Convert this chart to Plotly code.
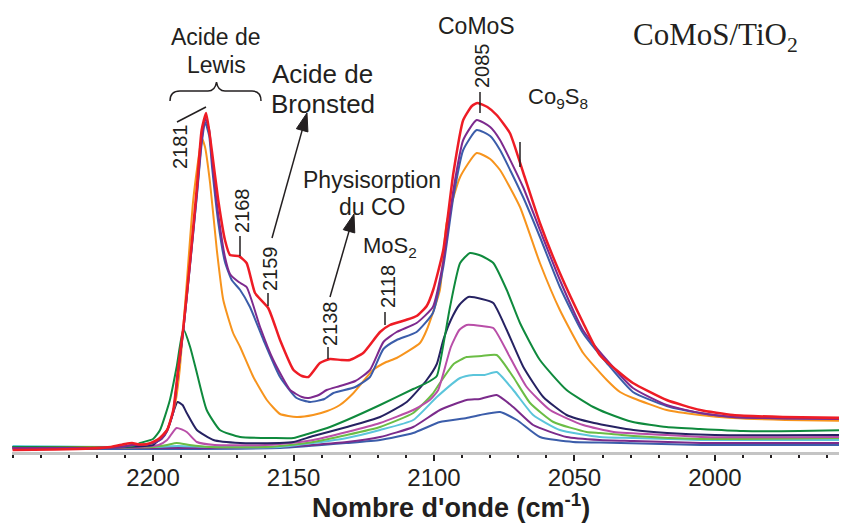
import math
import plotly.graph_objects as go

# ---------------- data (wavenumber cm-1, absorbance a.u.) ----------------
red_wn = [2250, 2235, 2222, 2215, 2210, 2207.5, 2205, 2202, 2198, 2195, 2192.8, 2191, 2189.2, 2186.8, 2184.4, 2182.7, 2181.1,
          2179.1, 2176.8, 2174.4, 2172.6, 2169.5, 2166.7, 2163.7, 2159, 2154.8, 2150, 2147, 2144.7, 2140.6, 2137, 2133,
          2129.9, 2125.2, 2119.2, 2115.7, 2110, 2106.2, 2102.6, 2100.3, 2096.7, 2093.1, 2089.6, 2086.5, 2084.5, 2081,
          2077.7, 2073, 2068.2, 2062.3, 2055.2, 2046.9, 2041, 2033.8, 2029.2, 2017.2, 2005.3, 1993.6, 1975.8, 1953]
red_ab = [0.02, 0.025, 0.035, 0.05, 0.08, 0.09, 0.075, 0.08, 0.13, 0.22, 0.42, 0.85, 1.25, 1.92, 2.65, 3.22, 3.39,
          3.02, 2.52, 2.12, 1.97, 1.96, 1.89, 1.59, 1.44, 1.12, 0.82, 0.76, 0.75, 0.89, 0.93, 0.92,
          0.92, 0.99, 1.20, 1.27, 1.32, 1.36, 1.46, 1.62, 2.02, 2.79, 3.32, 3.46, 3.49, 3.45,
          3.37, 3.19, 2.79, 2.29, 1.79, 1.29, 0.97, 0.79, 0.69, 0.52, 0.42, 0.37, 0.35, 0.34]

purple_wn = [2250, 2225, 2212, 2207, 2204, 2200, 2197, 2195, 2192.8, 2191, 2189.2, 2186.8, 2184.4, 2182.7, 2181.5, 2180,
             2179, 2176.8, 2174.4, 2172.6, 2169.5, 2166.7, 2161.9, 2157.2, 2151.2, 2147, 2144.7, 2141, 2138.2, 2133.5,
             2128, 2122.8, 2118, 2113.3, 2106.2, 2100.4, 2096.7, 2093.1, 2089.6, 2084.8, 2080, 2076.5, 2068.3, 2062.3,
             2055.2, 2047, 2038.5, 2029.2, 2017.2, 2005.3, 1993.6, 1975, 1953]
purple_ab = [0.04, 0.04, 0.05, 0.07, 0.07, 0.09, 0.13, 0.21, 0.40, 0.82, 1.22, 1.88, 2.58, 3.12, 3.34, 3.22,
             2.92, 2.38, 1.95, 1.78, 1.70, 1.65, 1.25, 0.92, 0.62, 0.55, 0.54, 0.57, 0.62, 0.66,
             0.71, 0.82, 1.10, 1.20, 1.29, 1.45, 1.90, 2.62, 3.12, 3.32, 3.25, 3.12, 2.65, 2.22,
             1.72, 1.22, 0.92, 0.64, 0.47, 0.39, 0.35, 0.335, 0.33]

blue_wn = [2250, 2225, 2212, 2207, 2204, 2200, 2197, 2195, 2192.8, 2191, 2189.2, 2186.8, 2184.4, 2182.7, 2181.5, 2180,
           2179, 2176.8, 2174.4, 2172, 2169, 2165.5, 2160.7, 2154.8, 2148.9, 2144.1, 2139, 2135.8, 2128, 2122.8, 2118,
           2113.3, 2106.2, 2100.4, 2096.7, 2093.1, 2089.6, 2084.8, 2080, 2076.5, 2068.3, 2062.3, 2055.2, 2047, 2038.5,
           2029.2, 2017.2, 2005.3, 1993.6, 1953]
blue_ab = [0.04, 0.04, 0.05, 0.07, 0.07, 0.09, 0.13, 0.21, 0.40, 0.82, 1.22, 1.88, 2.56, 3.08, 3.30, 3.16,
           2.85, 2.30, 1.90, 1.72, 1.62, 1.45, 1.12, 0.75, 0.54, 0.50, 0.53, 0.59, 0.65, 0.75, 1.03,
           1.12, 1.20, 1.39, 1.85, 2.55, 3.02, 3.22, 3.16, 3.02, 2.55, 2.15, 1.65, 1.19, 0.89,
           0.60, 0.46, 0.39, 0.35, 0.33]

orange_wn = [2250, 2215, 2207, 2200, 2195, 2192, 2190.4, 2188, 2185.7, 2183.5, 2182.7, 2181.5, 2179.7, 2177.3, 2175,
             2171.5, 2169, 2164.3, 2159.5, 2154.8, 2148.9, 2143, 2138, 2133.5, 2129, 2121.7, 2117, 2113.3, 2105,
             2102.6, 2097.9, 2095.5, 2090.7, 2084.8, 2080, 2076.5, 2069.4, 2062.3, 2055.2, 2046.9, 2038.5, 2033.8,
             2029.2, 2017.2, 2005.3, 1993.6, 1975, 1953]
orange_ab = [0.04, 0.05, 0.07, 0.09, 0.22, 0.50, 0.85, 1.69, 2.52, 3.0, 3.14, 3.05, 2.69, 2.02, 1.52,
             1.19, 1.05, 0.75, 0.52, 0.38, 0.35, 0.37, 0.41, 0.47, 0.58, 0.82, 0.90, 0.94, 1.09,
             1.22, 1.62, 2.29, 2.75, 2.99, 2.93, 2.82, 2.45, 1.89, 1.42, 0.99, 0.72, 0.60,
             0.54, 0.42, 0.37, 0.34, 0.32, 0.31]

green_wn = [2250, 2215, 2207, 2204.6, 2200, 2197.5, 2194, 2191.6, 2189.2, 2186.8, 2184.4, 2180.9, 2176.2, 2169, 2157.2,
            2150, 2145, 2138, 2131, 2119.2, 2107.4, 2102, 2099, 2096.5, 2094.3, 2090.7, 2087.2, 2083, 2078.9, 2074.1,
            2069.4, 2062.3, 2052.8, 2043.3, 2038.5, 2029.2, 2017.2, 2005.3, 1990, 1970, 1953]
green_ab = [0.05, 0.05, 0.06, 0.09, 0.13, 0.22, 0.52, 0.85, 1.23, 1.05, 0.79, 0.42, 0.22, 0.15, 0.14,
            0.14, 0.18, 0.24, 0.32, 0.47, 0.63, 0.70, 0.76, 1.10, 1.45, 1.89, 1.99, 1.96, 1.89, 1.62,
            1.29, 0.92, 0.62, 0.45, 0.39, 0.30, 0.25, 0.23, 0.21, 0.21, 0.22]

navy_wn = [2250, 2210, 2200, 2198.7, 2195, 2193, 2191.3, 2189.5, 2188, 2184.4, 2178.5, 2169, 2155, 2150, 2143, 2131,
           2119.2, 2109.7, 2102.6, 2099, 2096.7, 2094, 2091, 2087.8, 2083, 2078.9, 2074.1, 2068.2, 2061.1, 2052.8,
           2043, 2029, 2017, 2000, 1953]
navy_ab = [0.05, 0.05, 0.07, 0.10, 0.22, 0.38, 0.50, 0.47, 0.39, 0.22, 0.12, 0.09, 0.09, 0.10, 0.16, 0.25,
           0.35, 0.50, 0.72, 0.88, 1.12, 1.32, 1.47, 1.55, 1.53, 1.49, 1.22, 0.85, 0.55, 0.37,
           0.29, 0.22, 0.19, 0.17, 0.17]

magenta_wn = [2250, 2205, 2198, 2195, 2191.6, 2188, 2184.4, 2178, 2160, 2154.8, 2143, 2131, 2119.2, 2107.4, 2101.5,
              2098.5, 2094, 2091, 2088.4, 2083, 2078.9, 2073, 2067, 2058.7, 2046.9, 2036, 2017, 2005, 1953]
magenta_ab = [0.05, 0.05, 0.07, 0.12, 0.24, 0.20, 0.10, 0.07, 0.07, 0.08, 0.12, 0.20, 0.29, 0.42, 0.52,
              0.62, 1.05, 1.22, 1.27, 1.26, 1.24, 0.95, 0.65, 0.42, 0.27, 0.20, 0.17, 0.15, 0.15]

lgreen_wn = [2250, 2200, 2195, 2191.6, 2187, 2180, 2160, 2154.8, 2143, 2131, 2119.2, 2107.4, 2100.5, 2097.9, 2093,
             2088.4, 2083, 2077.7, 2071.8, 2065.8, 2057.5, 2045.7, 2041, 2029, 2005, 1953]
lgreen_ab = [0.05, 0.05, 0.07, 0.09, 0.07, 0.05, 0.05, 0.06, 0.10, 0.17, 0.25, 0.39, 0.58, 0.69, 0.88,
             0.95, 0.96, 0.97, 0.75, 0.49, 0.30, 0.20, 0.19, 0.16, 0.13, 0.14]

cyan_wn = [2250, 2200, 2191, 2180, 2154.8, 2143, 2131, 2119.2, 2107.4, 2099, 2090.7, 2086, 2082, 2077.7, 2071.8,
           2064.7, 2055.2, 2041, 2029, 2005, 1953]
cyan_ab = [0.06, 0.05, 0.06, 0.05, 0.05, 0.09, 0.14, 0.22, 0.32, 0.55, 0.74, 0.77, 0.77, 0.80, 0.62,
           0.37, 0.22, 0.15, 0.14, 0.12, 0.12]

purple2_wn = [2250, 2200, 2154.8, 2131, 2119.2, 2107.4, 2097.9, 2088.4, 2083.6, 2077.7, 2071.8, 2064.7, 2052.8, 2041,
              2029, 2005, 1953]
purple2_ab = [0.04, 0.04, 0.05, 0.10, 0.15, 0.25, 0.42, 0.52, 0.53, 0.57, 0.45, 0.27, 0.15, 0.12,
              0.11, 0.09, 0.09]

blue2_wn = [2250, 2200, 2154.8, 2131, 2119.2, 2107.4, 2097.9, 2088.4, 2083.6, 2076.5, 2070.5, 2062.3, 2050.5, 2041,
            2005, 1953]
blue2_ab = [0.03, 0.03, 0.04, 0.09, 0.12, 0.19, 0.30, 0.34, 0.37, 0.40, 0.32, 0.15, 0.10, 0.095,
            0.07, 0.07]

tick_vals = [2200, 2150, 2100, 2050, 2000]
tick_text = ["2200", "2150", "2100", "2050", "2000"]

series = [
    (blue2_wn, blue2_ab, "#3b5daa", 2),
    (purple2_wn, purple2_ab, "#7b2b8b", 2),
    (cyan_wn, cyan_ab, "#5bc5db", 2),
    (lgreen_wn, lgreen_ab, "#6bbd45", 2),
    (magenta_wn, magenta_ab, "#b94ea8", 2),
    (navy_wn, navy_ab, "#262262", 2),
    (green_wn, green_ab, "#0f8a3d", 2),
    (orange_wn, orange_ab, "#f7941d", 2),
    (blue_wn, blue_ab, "#3b5daa", 2),
    (purple_wn, purple_ab, "#7d2a8e", 2),
    (red_wn, red_ab, "#ee1c25", 2.5),
]

fig = go.Figure()
for wn, ab, col, w in series:
    fig.add_trace(go.Scatter(x=wn, y=ab, mode="lines",
                             line=dict(color=col, width=w, shape="spline", smoothing=0.5),
                             showlegend=False, hoverinfo="skip"))

# --------------- layout helpers (screen pixel -> paper) ---------------
OFF = 8                       # page body margin
W, H = 847 - OFF, 527 - OFF   # figure size
L, R, T, B = 12, 847, OFF, 452  # plot area in screen pixels
def PX(x):
    return (x - L) / (R - L)
def PY(y):
    return (B - y) / (B - T)

FONT = "Liberation Sans, Arial, sans-serif"
TXT = "#231f20"
ann = []
def label(text, x, y, size, angle=0, family=FONT):
    ann.append(dict(text=text, x=PX(x), y=PY(y), xref="paper", yref="paper", showarrow=False,
                    font=dict(family=family, size=size, color=TXT), textangle=angle,
                    xanchor="center", yanchor="middle"))

label("Acide de", 216, 37, 23)
label("Lewis", 216, 65, 23)
label("Acide de", 322, 74, 26)
label("Bronsted", 323, 104, 26)
label("Physisorption", 372, 180, 23)
label("du CO", 372, 207, 23)
label("MoS<sub>2</sub>", 390, 247, 22)
label("CoMoS", 477, 26, 23)
label("Co<sub>9</sub>S<sub>8</sub>", 558, 98, 22)
label("CoMoS/TiO<sub>2</sub>", 715, 37, 31, family="Liberation Serif, Times New Roman, serif")
label("2181", 180, 147, 20, -90)
label("2168", 242, 211, 20, -90)
label("2159", 270, 269, 20, -90)
label("2138", 330, 324, 20, -90)
label("2118", 388, 287, 20, -90)
label("2085", 482, 66, 20, -90)
label("<b>Nombre d'onde (cm<sup>-1</sup>)</b>", 451, 506, 27)

shapes = []
def seg(x0, y0, x1, y1):
    shapes.append(dict(type="line", xref="paper", yref="paper", x0=PX(x0), y0=PY(y0), x1=PX(x1), y1=PY(y1),
                       line=dict(color=TXT, width=1.5)))

def arrow(tail, tip, hl=18, hw=12):
    dx, dy = tip[0] - tail[0], tip[1] - tail[1]
    n = math.hypot(dx, dy)
    ux, uy = dx / n, dy / n
    bx, by = tip[0] - ux * hl, tip[1] - uy * hl
    px_, py_ = -uy, ux
    seg(tail[0], tail[1], bx + ux * 2, by + uy * 2)
    p1 = (bx + px_ * hw / 2, by + py_ * hw / 2)
    p2 = (bx - px_ * hw / 2, by - py_ * hw / 2)
    path = (f"M {PX(tip[0]):.5f},{PY(tip[1]):.5f} L {PX(p1[0]):.5f},{PY(p1[1]):.5f} "
            f"L {PX(p2[0]):.5f},{PY(p2[1]):.5f} Z")
    shapes.append(dict(type="path", xref="paper", yref="paper", path=path,
                       fillcolor=TXT, line=dict(color=TXT, width=1)))

arrow((272, 238), (307, 113))
arrow((330, 297), (354, 214))

seg(177, 122, 206, 107)
seg(240, 236, 240, 256)
seg(268, 293, 268, 306)
seg(328, 347, 328, 359)
seg(385, 312, 385, 325)
seg(480, 92, 480, 113)
seg(520, 142, 520, 167)

# curly brace
pts = [("M", (170, 101)), ("Q", (170, 91), (180, 91)), ("L", (208, 91)), ("Q", (215, 91), (216.5, 82)),
       ("Q", (218, 91), (225, 91)), ("L", (252, 91)), ("Q", (261, 91), (261, 101))]
path = ""
for p in pts:
    coords = " ".join(f"{PX(a):.5f},{PY(b):.5f}" for a, b in p[1:])
    path += f"{p[0]} {coords} "
shapes.append(dict(type="path", xref="paper", yref="paper", path=path.strip(),
                   line=dict(color=TXT, width=1.5)))

fig.update_layout(
    width=W, height=H,
    margin=dict(l=L - OFF, r=847 - R, t=T - OFF, b=527 - B),
    paper_bgcolor="white", plot_bgcolor="white",
    annotations=ann, shapes=shapes,
    xaxis=dict(range=[2250.2, 1953], tickvals=tick_vals, ticktext=tick_text,
               showgrid=False, zeroline=False, showline=True, linecolor="#c4c4c4", linewidth=3,
               ticks="outside", ticklen=6, tickwidth=1.5, tickcolor="#231f20",
               minor=dict(dtick=10, ticks="outside", ticklen=3, tickwidth=1.5, tickcolor="#231f20"),
               tickfont=dict(family=FONT, size=24, color=TXT), ticklabelstandoff=-4,
               automargin=False),
    yaxis=dict(range=[0, (B - T) / 100], visible=False),
)

fig.write_html("out.html")
